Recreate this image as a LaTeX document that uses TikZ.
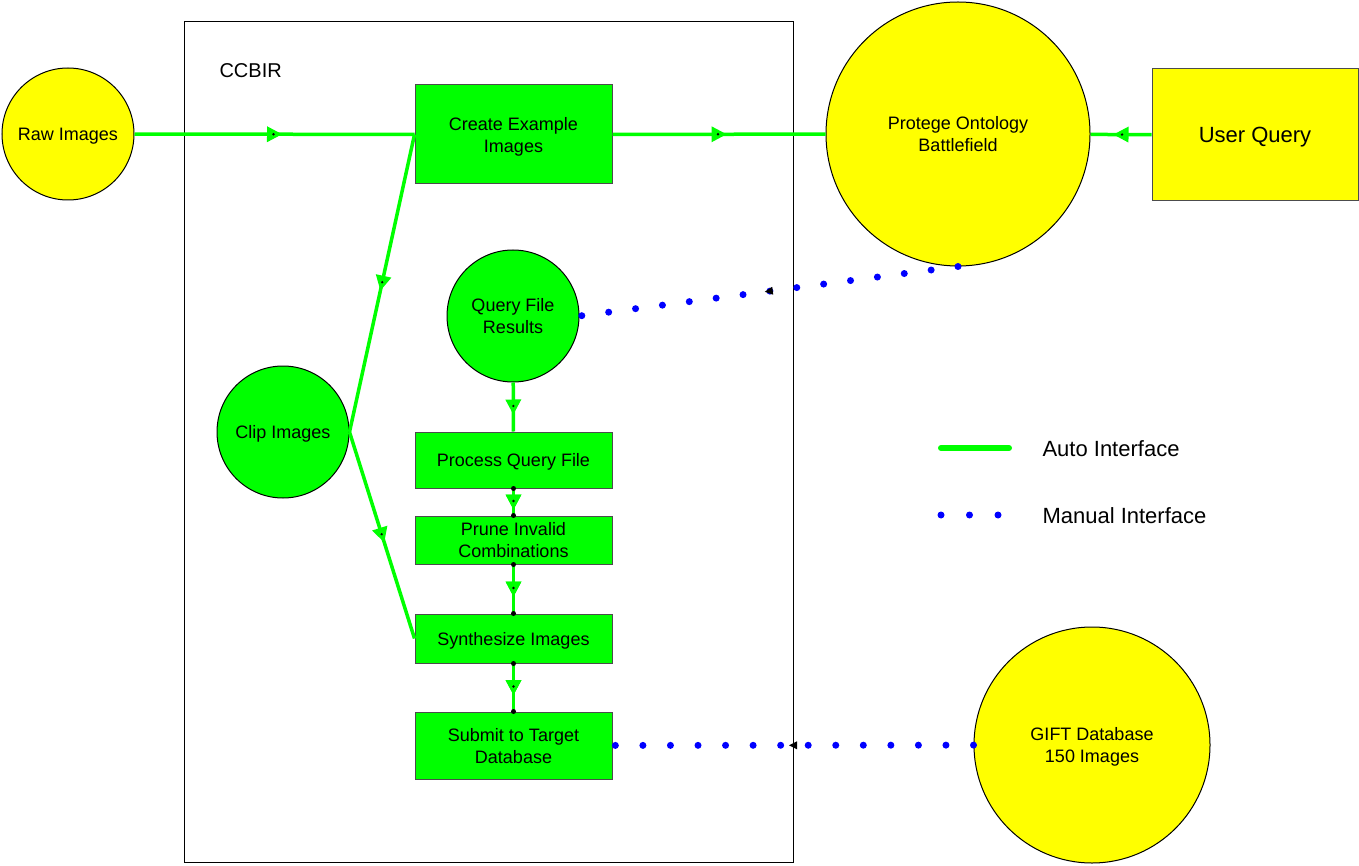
\documentclass[tikz,border=0pt]{standalone}
\usepackage{fontspec}
\setmainfont{Liberation Sans}
\usetikzlibrary{decorations.markings,arrows.meta}
\definecolor{ggreen}{RGB}{0,255,0}
\definecolor{yyellow}{RGB}{255,255,0}
\definecolor{bblue}{RGB}{0,0,255}
\begin{document}
\begin{tikzpicture}[x=1pt,y=-1pt,
  txt/.style={font=\fontsize{18}{22}\selectfont, align=center, text=black, text depth=0pt},
  ybub/.style={circle, draw=black, line width=1pt, fill=yyellow, inner sep=0pt, minimum size=#1, txt},
  gbub/.style={circle, draw=black, line width=1pt, fill=ggreen, inner sep=0pt, minimum size=#1, txt},
  gbox/.style={rectangle, draw=black!70, line width=1pt, fill=ggreen, inner sep=0pt, minimum width=197pt, minimum height=#1, txt},
  autoline/.style={draw=ggreen, line width=3.5pt, postaction=decorate,
    decoration={markings, mark=at position 0.5 with {\fill[ggreen] (7.5pt,0pt) -- (-7.5pt,8pt) -- (-7.5pt,-8pt) -- cycle; \fill[black] (-1pt,0) circle (1.3pt);}}},
  chain/.style={autoline, postaction={decorate, decoration={markings,
    mark=at position 0 with {\fill[black] (0,0) circle (2.5pt);},
    mark=at position 1 with {\fill[black] (0,0) circle (2.5pt);}}}},
  manual/.style={draw=bblue, line width=7pt, line cap=round, dash pattern=on 0pt off #1, postaction=decorate,
    decoration={markings, mark=at position 0.5 with {\fill[black, solid] (4pt,0pt) -- (-4pt,4pt) -- (-4pt,-4pt) -- cycle;}}},
]
\useasboundingbox (0,0) rectangle (1359,866);
% CCBIR frame
\draw[black, line width=1pt] (184,22) rectangle (793,862);
\node[font=\fontsize{20}{24}\selectfont, anchor=west] (ccbir) at (216,71) {CCBIR};

% nodes
\node[ybub=132pt] (raw) at (68,134) {Raw Images};
\node[gbox=99pt] (create) at (513.5,134.5) {Create Example\\Images};
\node[ybub=264pt] (protege) at (958,134) {Protege Ontology\\Battlefield};
\node[rectangle, draw=black!70, line width=1pt, fill=yyellow, minimum width=206pt, minimum height=132pt, inner sep=0pt,
      font=\fontsize{22}{26}\selectfont, text depth=0pt] (user) at (1255,135) {User Query};
\node[gbub=132pt] (query) at (513,316) {Query File\\Results};
\node[gbub=132pt] (clip) at (283,432) {Clip Images};
\node[gbox=56pt] (process) at (513.5,460) {Process Query File};
\node[gbox=48pt] (prune) at (513.5,540) {Prune Invalid\\Combinations};
\node[gbox=49pt] (synth) at (513.5,638.5) {Synthesize Images};
\node[gbox=67pt] (submit) at (513.5,745.5) {Submit to Target\\Database};
\node[ybub=236pt] (gift) at (1092,745) {GIFT Database\\150 Images};

% connectors
\draw[autoline] (raw) -- (create);
\draw[autoline] (create) -- (protege);
\draw[autoline] (user) -- (protege);
\draw[autoline] (create.west) -- (clip.east);
\draw[autoline] (clip.east) -- (synth.west);
\draw[autoline] (query) -- (process);
\draw[chain] (process) -- (prune);
\draw[chain] (prune) -- (synth);
\draw[chain] (synth) -- (submit);
\draw[manual=27.1pt] (protege.south) -- (query.east);
\draw[manual=27.55pt] (gift) -- (submit);

% legend
\coordinate (la) at (941,448);
\coordinate (lb) at (1009,448);
\draw[ggreen, line width=6pt, line cap=round] (la) -- (lb);
\node[font=\fontsize{22}{26}\selectfont, anchor=west, text depth=0pt] (lauto) at (1039,449) {Auto Interface};
\coordinate (lc) at (941,515);
\coordinate (ld) at (998,515);
\draw[bblue, line width=7pt, line cap=round, dash pattern=on 0pt off 28.5pt] (lc) -- (ld);
\node[font=\fontsize{22}{26}\selectfont, anchor=west, text depth=0pt] (lmanual) at (1039,516) {Manual Interface};
\end{tikzpicture}
\end{document}
